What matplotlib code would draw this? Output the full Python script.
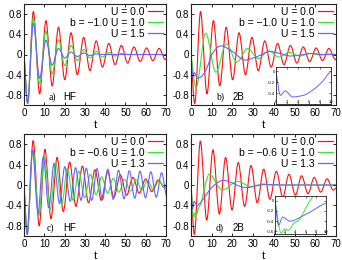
import numpy as np
import matplotlib
matplotlib.use("Agg")
import matplotlib.pyplot as plt
from matplotlib.path import Path
from matplotlib.patches import PathPatch
from matplotlib.lines import Line2D

# ---------------- data (extrema / key points) ----------------
# panel a) HF, b = -1.0
a_red_t = [0, 1.8, 4.6, 7.7, 10.8, 13.9, 17.0, 20.1, 23.2, 26.3, 29.4, 32.5, 35.6, 38.7, 41.8, 44.9, 48.0, 51.1, 54.2, 57.3, 60.4, 63.5, 66.6, 69.7, 70]
a_red_y = [0, -0.97, 0.85, -0.78, 0.67, -0.62, 0.54, -0.50, 0.43, -0.40, 0.34, -0.32, 0.27, -0.25, 0.22, -0.20, 0.18, -0.17, 0.15, -0.14, 0.13, -0.12, 0.12, -0.10, -0.09]
a_grn_t = [0, 1.8, 4.6, 7.7, 10.8, 13.9, 17.0, 20.1, 23.2, 26.3, 29.4, 32.5, 35.6, 38.7, 41.8, 44.9, 48.0, 52, 70]
a_grn_y = [0, -0.96, 0.72, -0.58, 0.46, -0.38, 0.29, -0.22, 0.18, -0.12, 0.10, -0.07, 0.06, -0.05, 0.04, -0.03, 0.02, 0.0, 0.0]
a_blu_t = [0, 1.8, 4.6, 7.7, 10.8, 13.9, 17.0, 20.1, 23.2, 26.3, 29.4, 32.5, 35.6, 40, 70]
a_blu_y = [0, -0.95, 0.62, -0.47, 0.28, -0.21, 0.12, -0.07, 0.05, -0.04, 0.03, -0.02, 0.01, 0.0, 0.0]

# panel b) 2B, b = -1.0
b_red_t = a_red_t
b_red_y = a_red_y
b_grn_t = [0, 2.4, 7.1, 12.0, 17.0, 22.2, 27.4, 32.5, 37.5, 42.5, 47.5, 52.5, 57.5, 62.5, 67.5, 70]
b_grn_y = [0, -0.66, 0.42, -0.35, 0.21, -0.15, 0.12, -0.08, 0.07, -0.05, 0.04, -0.03, 0.02, -0.01, 0.01, 0.0]
b_blu_t = [0, 0.8, 1.7, 3.0, 5.0, 7.0, 8.5, 10.0, 14.5, 20.0, 26.0, 32.0, 38.0, 43.0, 48.0, 53.0, 58.0, 64.0, 70]
b_blu_y = [0, -0.44, -0.36, -0.47, -0.44, -0.32, -0.18, 0.0, 0.17, 0.06, -0.11, -0.04, 0.06, 0.02, -0.03, -0.01, 0.02, 0.0, 0.0]

# panel c) HF, b = -0.6
c_red_t = [0, 1.6, 4.5, 7.5, 10.3, 13.3, 16.3, 19.4, 22.5, 25.6, 28.8, 31.8, 35.0, 38.1, 41.2, 44.3, 47.5, 50.6, 53.7, 56.8, 60.0, 63.0, 66.2, 69.3, 70]
c_red_y = [0, -0.97, 0.87, -0.80, 0.70, -0.66, 0.54, -0.52, 0.45, -0.42, 0.37, -0.35, 0.30, -0.30, 0.26, -0.24, 0.20, -0.20, 0.15, -0.16, 0.12, -0.13, 0.10, -0.06, 0.0]
c_grn_t = [0, 1.6, 4.4, 7.3, 10.1, 12.9, 15.7, 18.6, 21.4, 24.2, 27.0, 29.9, 32.7, 35.5, 38.3, 41.2, 44.0, 46.8, 49.6, 52.5, 55.3, 58.1, 60.9, 63.7, 66.6, 69.4, 70]
c_grn_y = [0, -0.95, 0.70, -0.60, 0.55, -0.48, 0.42, -0.38, 0.33, -0.30, 0.27, -0.25, 0.21, -0.19, 0.16, -0.16, 0.13, -0.14, 0.11, -0.12, 0.10, -0.10, 0.09, -0.09, 0.08, -0.06, 0.0]
c_blu_t = [0, 1.5, 4.2, 6.9, 9.5, 12.2, 14.8, 17.5, 20.1, 22.8, 25.4, 28.1, 30.7, 33.4, 36.0, 38.7, 41.3, 44.0, 46.6, 49.3, 51.9, 54.6, 57.2, 59.9, 62.5, 65.2, 67.8, 70]
c_blu_y = [0, -0.95, 0.68, -0.55, 0.55, -0.45, 0.42, -0.36, 0.36, -0.32, 0.34, -0.30, 0.33, -0.30, 0.32, -0.29, 0.31, -0.28, 0.29, -0.27, 0.28, -0.26, 0.27, -0.25, 0.26, -0.24, 0.24, -0.20]

# panel d) 2B, b = -0.6
d_red_t = [0, 1.6, 4.5, 7.6, 10.6, 13.7, 16.7, 19.8, 22.8, 25.9, 29.0, 32.0, 35.1, 38.1, 41.2, 44.3, 47.3, 50.4, 53.4, 56.5, 59.5, 62.6, 65.7, 68.7, 70]
d_red_y = [0, -0.97, 0.86, -0.69, 0.69, -0.57, 0.54, -0.49, 0.44, -0.42, 0.38, -0.35, 0.31, -0.28, 0.27, -0.24, 0.21, -0.20, 0.18, -0.17, 0.15, -0.14, 0.12, -0.10, -0.06]
d_grn_t = [0, 1.2, 2.0, 2.6, 3.8, 4.6, 5.5, 6.5, 8.8, 15.1, 22.4, 29.0, 35.0, 40.0, 70]
d_grn_y = [0, -0.63, -0.55, -0.58, -0.43, -0.39, -0.25, -0.06, 0.21, -0.10, 0.07, -0.03, 0.02, 0.0, 0.0]
d_blu_t = [0, 0.7, 1.5, 2.9, 6.0, 10.0, 15.5, 26.5, 36.0, 45.0, 70]
d_blu_y = [0, -0.48, -0.32, -0.40, -0.27, -0.05, 0.09, -0.05, 0.01, 0.0, 0.0]

panel_tags = ["a)", "b)", "c)", "d)"]
panel_methods = ["HF", "2B", "HF", "2B"]
panel_b = ["b = \u22121.0", "b = \u22121.0", "b = \u22120.6", "b = \u22120.6"]
panel_U = [["0.0", "1.0", "1.5"], ["0.0", "1.0", "1.5"], ["0.0", "1.0", "1.3"], ["0.0", "1.0", "1.3"]]
yticks = [-0.8, -0.4, 0, 0.4, 0.8]
ytick_labels = ["-0.8", "-0.4", "0", "0.4", "0.8"]
xticks = [0, 10, 20, 30, 40, 50, 60, 70]
inset_xticks = [0, 2, 4, 6, 8, 10]
inset_b_yticks = [-0.4, -0.2, 0]
inset_b_ylabels = ["-0.4", "-0.2", "0"]
inset_d_yticks = [-0.6, -0.4, -0.2, 0]
inset_d_ylabels = ["-0.6", "-0.4", "-0.2", "0"]

colors = ["#ff1010", "#33e633", "#6464ff"]

plt.rcParams['font.family'] = ['Liberation Sans', 'DejaVu Sans']


def smooth_patch(ax, t, y, color, lw=0.8):
    """Draw a smooth curve through the key points as a cubic Bezier path (monotone Hermite)."""
    t = np.asarray(t, float)
    y = np.asarray(y, float)
    n = len(t)
    h = np.diff(t)
    delta = np.diff(y) / h
    d = np.zeros(n)
    for i in range(1, n - 1):
        if delta[i - 1] * delta[i] <= 0:
            d[i] = 0.0
        else:
            w1 = 2 * h[i] + h[i - 1]
            w2 = h[i] + 2 * h[i - 1]
            d[i] = (w1 + w2) / (w1 / delta[i - 1] + w2 / delta[i])
    d[0] = delta[0]
    d[-1] = delta[-1]
    verts = [(t[0], y[0])]
    codes = [Path.MOVETO]
    for i in range(n - 1):
        hh = h[i] / 3.0
        verts += [(t[i] + hh, y[i] + d[i] * hh),
                  (t[i + 1] - hh, y[i + 1] - d[i + 1] * hh),
                  (t[i + 1], y[i + 1])]
        codes += [Path.CURVE4] * 3
    patch = PathPatch(Path(verts, codes), fill=False, edgecolor=color, lw=lw,
                      transform=ax.transData, clip_on=True, capstyle='round', joinstyle='round')
    ax.add_patch(patch)


fig = plt.figure(figsize=(3.42, 2.60), dpi=100)

positions = [
    [24 / 342, 1 - 105 / 260, 142 / 342, 101 / 260],
    [191 / 342, 1 - 105 / 260, 145 / 342, 101 / 260],
    [24 / 342, 1 - 236 / 260, 142 / 342, 102 / 260],
    [191 / 342, 1 - 236 / 260, 145 / 342, 102 / 260],
]

data = [
    [(a_red_t, a_red_y), (a_grn_t, a_grn_y), (a_blu_t, a_blu_y)],
    [(b_red_t, b_red_y), (b_grn_t, b_grn_y), (b_blu_t, b_blu_y)],
    [(c_red_t, c_red_y), (c_grn_t, c_grn_y), (c_blu_t, c_blu_y)],
    [(d_red_t, d_red_y), (d_grn_t, d_grn_y), (d_blu_t, d_blu_y)],
]

tag_x = [0.17, 0.17, 0.16, 0.17]
meth_x = [0.275, 0.285, 0.275, 0.285]

for k in range(4):
    ax = fig.add_axes(positions[k])
    for (tt, yy), c in zip(data[k], colors):
        smooth_patch(ax, tt, yy, c)
    ax.set_xlim(0, 70)
    ax.set_ylim(-1.0, 1.0)
    ax.set_xticks(xticks)
    ax.set_xticklabels([str(v) for v in xticks])
    ax.set_yticks(yticks)
    ax.set_yticklabels(ytick_labels)
    ax.tick_params(direction='in', length=2.5, width=0.6, top=True, right=True,
                   labelsize=7, pad=1.5)
    ax.tick_params(axis='x', pad=2.5)
    for s in ax.spines.values():
        s.set_linewidth(0.8)
        s.set_color('#222222')
    ax.set_xlabel('t', fontsize=8, labelpad=1)
    handles = [Line2D([], [], color=c, lw=0.9) for c in colors]
    labels = ["U = " + u for u in panel_U[k]]
    ax.legend(handles, labels, loc='upper right', frameon=False, markerfirst=False,
              fontsize=7.5, handlelength=1.5, handletextpad=0.3, borderaxespad=0.15,
              labelspacing=0.12, borderpad=0.1)
    ax.text(0.593, 0.81, panel_b[k], transform=ax.transAxes, ha='right', va='center', fontsize=7.5)
    ax.text(tag_x[k], 0.075, panel_tags[k], transform=ax.transAxes, ha='left', va='center',
            fontsize=7, family=['Liberation Serif', 'DejaVu Serif'])
    ax.text(meth_x[k], 0.075, panel_methods[k], transform=ax.transAxes, ha='left', va='center',
            fontsize=7)

# insets
ins_b = fig.add_axes([276 / 342, 1 - 104 / 260, 55 / 342, 37 / 260])
smooth_patch(ins_b, b_blu_t, b_blu_y, colors[2], lw=0.7)
ins_b.set_xlim(0, 10)
ins_b.set_ylim(-0.6, 0.08)
ins_b.set_yticks(inset_b_yticks)
ins_b.set_yticklabels(inset_b_ylabels)

ins_d = fig.add_axes([275 / 342, 1 - 234 / 260, 51 / 342, 38 / 260])
smooth_patch(ins_d, d_grn_t, d_grn_y, colors[1], lw=0.7)
smooth_patch(ins_d, d_blu_t, d_blu_y, colors[2], lw=0.7)
ins_d.set_xlim(0, 10)
ins_d.set_ylim(-0.65, 0.09)
ins_d.set_yticks(inset_d_yticks)
ins_d.set_yticklabels(inset_d_ylabels)

for ins in (ins_b, ins_d):
    ins.set_xticks(inset_xticks)
    ins.set_xticklabels([str(v) for v in inset_xticks])
    ins.tick_params(direction='in', length=1.2, width=0.4, top=True, right=True,
                    labelsize=3, pad=0.5)
    ins.tick_params(axis='x', pad=-3.2)
    for s in ins.spines.values():
        s.set_linewidth(0.6)
        s.set_color('#222222')
    ins.patch.set_facecolor('white')

fig.savefig('out.png', dpi=100)
